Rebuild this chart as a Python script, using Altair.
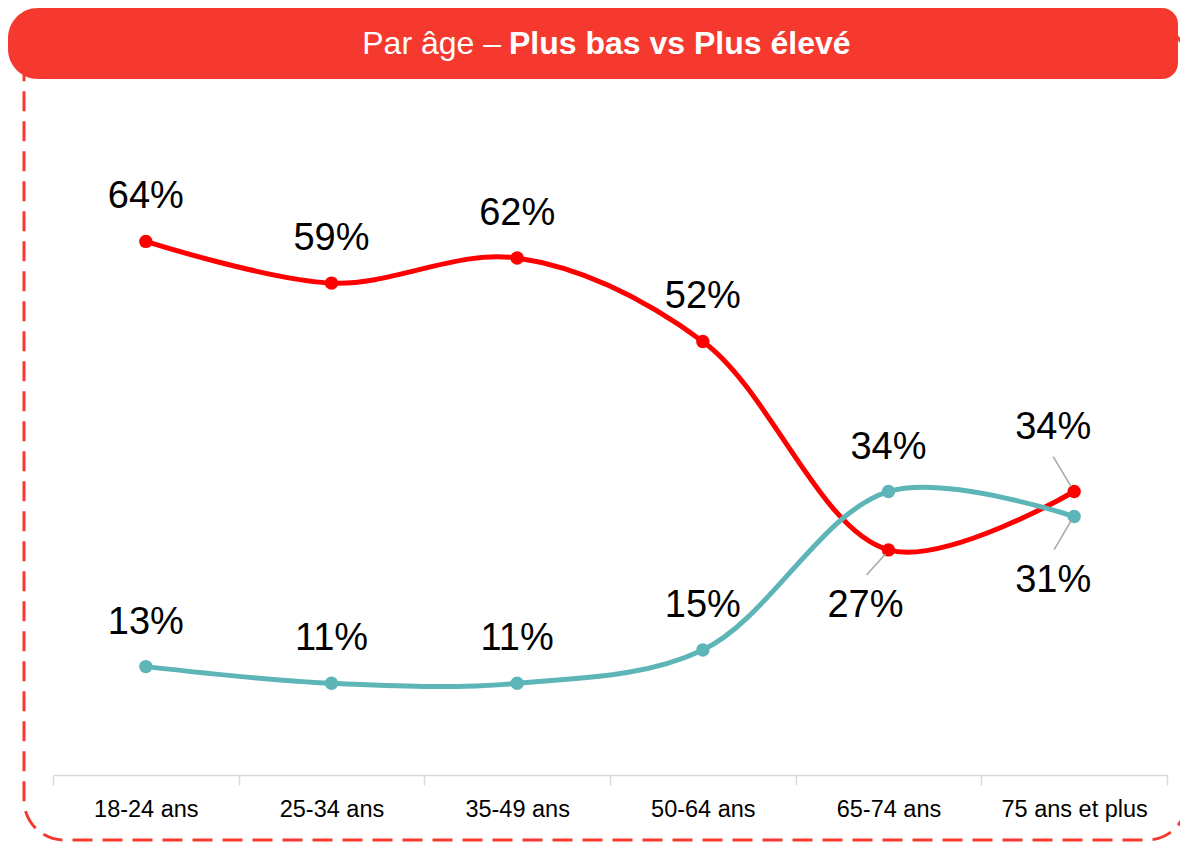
import altair as alt
import pandas as pd

categories = ["18-24 ans", "25-34 ans", "35-49 ans", "50-64 ans", "65-74 ans", "75 ans et plus"]
serie_rouge = [64, 59, 62, 52, 27, 34]
serie_turquoise = [13, 11, 11, 15, 34, 31]
noms_series = ["Plus bas", "Plus élevé"]
titre_normal = "Par âge –"
titre_gras = "Plus bas vs Plus élevé"

rows = []
for s, vals in zip(noms_series, [serie_rouge, serie_turquoise]):
    for c, v in zip(categories, vals):
        rows.append({"cat": c, "serie": s, "val": v, "label": f"{v}%"})
df = pd.DataFrame(rows)

RED = "#FF0000"
TEAL = "#5DB5B8"
HEAD = "#F5392F"
FONT = "Liberation Sans"

base = alt.Chart(df)
x = alt.X(
    "cat:N",
    sort=categories,
    bandPosition=0.5,
    scale=alt.Scale(type="band", paddingInner=0, paddingOuter=0),
    axis=alt.Axis(
        title=None, labelAngle=0, tickBand="extent",
        domainColor="#D9D9D9", domainWidth=1.5,
        tickColor="#D9D9D9", tickWidth=1.5, tickSize=10,
        labelFontSize=23.5, labelColor="#000000", labelFont=FONT, labelPadding=12,
        grid=False,
    ),
)
y = alt.Y("val:Q", scale=alt.Scale(domain=[0, 80]), axis=None)
color = alt.Color("serie:N", scale=alt.Scale(domain=noms_series, range=[RED, TEAL]), legend=None)

one = pd.DataFrame({"a": [0]})

frame = alt.Chart(one).mark_rect(
    fillOpacity=0, stroke=HEAD, strokeWidth=3, strokeDash=[20, 10], cornerRadius=40
).encode(x=alt.value(-29), x2=alt.value(1134), y=alt.value(-85), y2=alt.value(732))

header = alt.Chart(one).mark_rect(
    color=HEAD, cornerRadiusTopLeft=30, cornerRadiusBottomLeft=30,
    cornerRadiusTopRight=16, cornerRadiusBottomRight=16,
).encode(x=alt.value(-45), x2=alt.value(1125), y=alt.value(-100), y2=alt.value(-29))

head_txt1 = alt.Chart(pd.DataFrame({"t": [titre_normal]})).mark_text(
    font=FONT, fontSize=32, color="white", align="right", baseline="middle"
).encode(x=alt.value(448), y=alt.value(-64), text="t:N")
head_txt2 = alt.Chart(pd.DataFrame({"t": [titre_gras]})).mark_text(
    font=FONT, fontSize=32, fontWeight="bold", color="white", align="left", baseline="middle"
).encode(x=alt.value(456), y=alt.value(-64), text="t:N")

lines = base.mark_line(interpolate="catmull-rom", strokeWidth=5).encode(x=x, y=y, color=color)
points = base.mark_circle(size=180, opacity=1).encode(x=x, y=y, color=color)

def sel(cat, serie):
    return f"(datum.cat == '{cat}' && datum.serie == '{serie}')"

s27 = sel(categories[4], noms_series[0])
s34 = sel(categories[5], noms_series[0])
s31 = sel(categories[5], noms_series[1])

txt = dict(font=FONT, fontSize=38, color="#000000", baseline="middle", align="center")
lab_main = base.mark_text(dy=-44, **txt).encode(x=x, y=y, text="label:N").transform_filter(
    f"!({s27} || {s34} || {s31})")
lab27 = base.mark_text(dx=-23, dy=56, **txt).encode(x=x, y=y, text="label:N").transform_filter(s27)
lab34 = base.mark_text(dx=-21, dy=-64, **txt).encode(x=x, y=y, text="label:N").transform_filter(s34)
lab31 = base.mark_text(dx=-21, dy=64, **txt).encode(x=x, y=y, text="label:N").transform_filter(s31)

lead = dict(size=4, filled=False, stroke="#A6A6A6", strokeWidth=1.5, opacity=1)
lead27 = base.mark_point(shape="M-3,4L-22,25", **lead).encode(x=x, y=y).transform_filter(s27)
lead34 = base.mark_point(shape="M-3,-5L-21,-35", **lead).encode(x=x, y=y).transform_filter(s34)
lead31 = base.mark_point(shape="M-3,4L-20,33", **lead).encode(x=x, y=y).transform_filter(s31)

chart = alt.layer(
    frame, header, head_txt1, head_txt2,
    lines, points, lead27, lead34, lead31,
    lab_main, lab27, lab34, lab31,
).properties(
    width=1114, height=667,
    padding={"left": 45, "top": 100, "right": 13, "bottom": 67},
    autosize=alt.AutoSizeParams(type="none"),
).configure_view(stroke=None)

chart.save("out.html", embed_options={"renderer": "svg", "actions": False})
